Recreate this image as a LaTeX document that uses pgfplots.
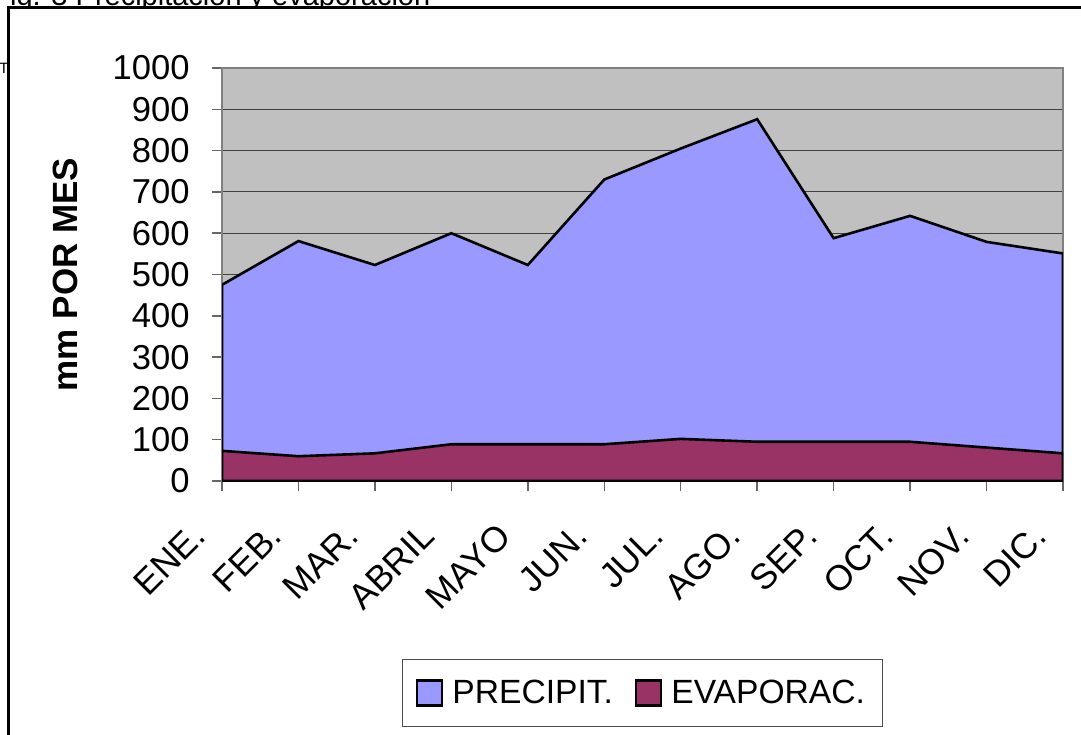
\documentclass[border=0pt]{standalone}
\usepackage{pgfplots}
\pgfplotsset{compat=1.18}
\usepackage{fontspec}
\setmainfont{Liberation Sans}
\definecolor{precip}{HTML}{9999FF}
\definecolor{evap}{HTML}{993366}
\definecolor{plotbg}{HTML}{C0C0C0}
\begin{document}
\begin{tikzpicture}
\useasboundingbox (0,0) rectangle (540.5pt,-367pt);
\clip (0,0) rectangle (540.5pt,-367pt);
% partially visible text behind the chart
\node[anchor=base west, inner sep=0pt, font=\fontsize{14.5}{16}\selectfont] at (-4pt,-2.5pt) {Fig. 3 Precipitación y evaporación};
\node[anchor=base, inner sep=0pt, font=\fontsize{7.5}{9}\selectfont] at (2pt,-36.5pt) {T};
% chart frame
\draw[line width=1.5pt, fill=white] (4pt,-3.5pt) rectangle (560pt,-380pt);
\begin{axis}[
  at={(111pt,-240.5pt)}, anchor=south west,
  scale only axis, width=420.5pt, height=206.5pt,
  xmin=0, xmax=11, ymin=0, ymax=1000,
  xtick={0,...,11},
  xticklabels={ENE.,FEB.,MAR.,ABRIL,MAYO,JUN.,JUL.,AGO.,SEP.,OCT.,NOV.,DIC.},
  ytick={0,100,...,1000},
  tick align=outside, xtick pos=left, ytick pos=left,
  major tick length=5pt,
  tick style={black!60, line width=0.75pt},
  axis background/.style={fill=plotbg},
  axis line style={black!50, line width=0.75pt},
  ymajorgrids, grid style={black!75, line width=0.5pt},
  /pgf/number format/assume math mode=true,
  /pgf/number format/1000 sep={},
  yticklabel style={font=\fontsize{17.3}{19}\selectfont, anchor=east, inner sep=0pt, xshift=-11pt},
  xticklabel style={font=\fontsize{17.8}{19}\selectfont, inner sep=0pt, shift={(-11.5pt,-19.5pt)}, rotate=45, anchor=east},
  ylabel={\bfseries mm POR MES},
  ylabel style={font=\fontsize{17.5}{19}\selectfont, at={(axis description cs:-0.1865,0.5)}, anchor=center},
  legend columns=2,
  legend style={at={(0.5,-0.513)}, anchor=center, draw=black!70, line width=0.5pt,
    font=\fontsize{16.8}{18}\selectfont, inner xsep=7pt, inner ysep=8.25pt,
    /tikz/every odd column/.append style={column sep=2.5pt},
    /tikz/every even column/.append style={column sep=9pt}},
  legend image code/.code={\draw[#1, line width=1.2pt] (0pt,-6.25pt) rectangle (12.5pt,6.25pt);},
]
\addplot[fill=precip, draw=black, line width=1.3pt] coordinates {
 (0,475) (1,581) (2,523) (3,600) (4,523) (5,730) (6,805) (7,876) (8,588) (9,642) (10,579) (11,551)
} \closedcycle;
\addlegendentry{PRECIPIT.}
\addplot[fill=evap, draw=black, line width=1.3pt] coordinates {
 (0,73) (1,60) (2,67) (3,89) (4,89) (5,89) (6,102) (7,95) (8,95) (9,95) (10,81) (11,67)
} \closedcycle;
\addlegendentry{EVAPORAC.}
\end{axis}
\end{tikzpicture}
\end{document}
